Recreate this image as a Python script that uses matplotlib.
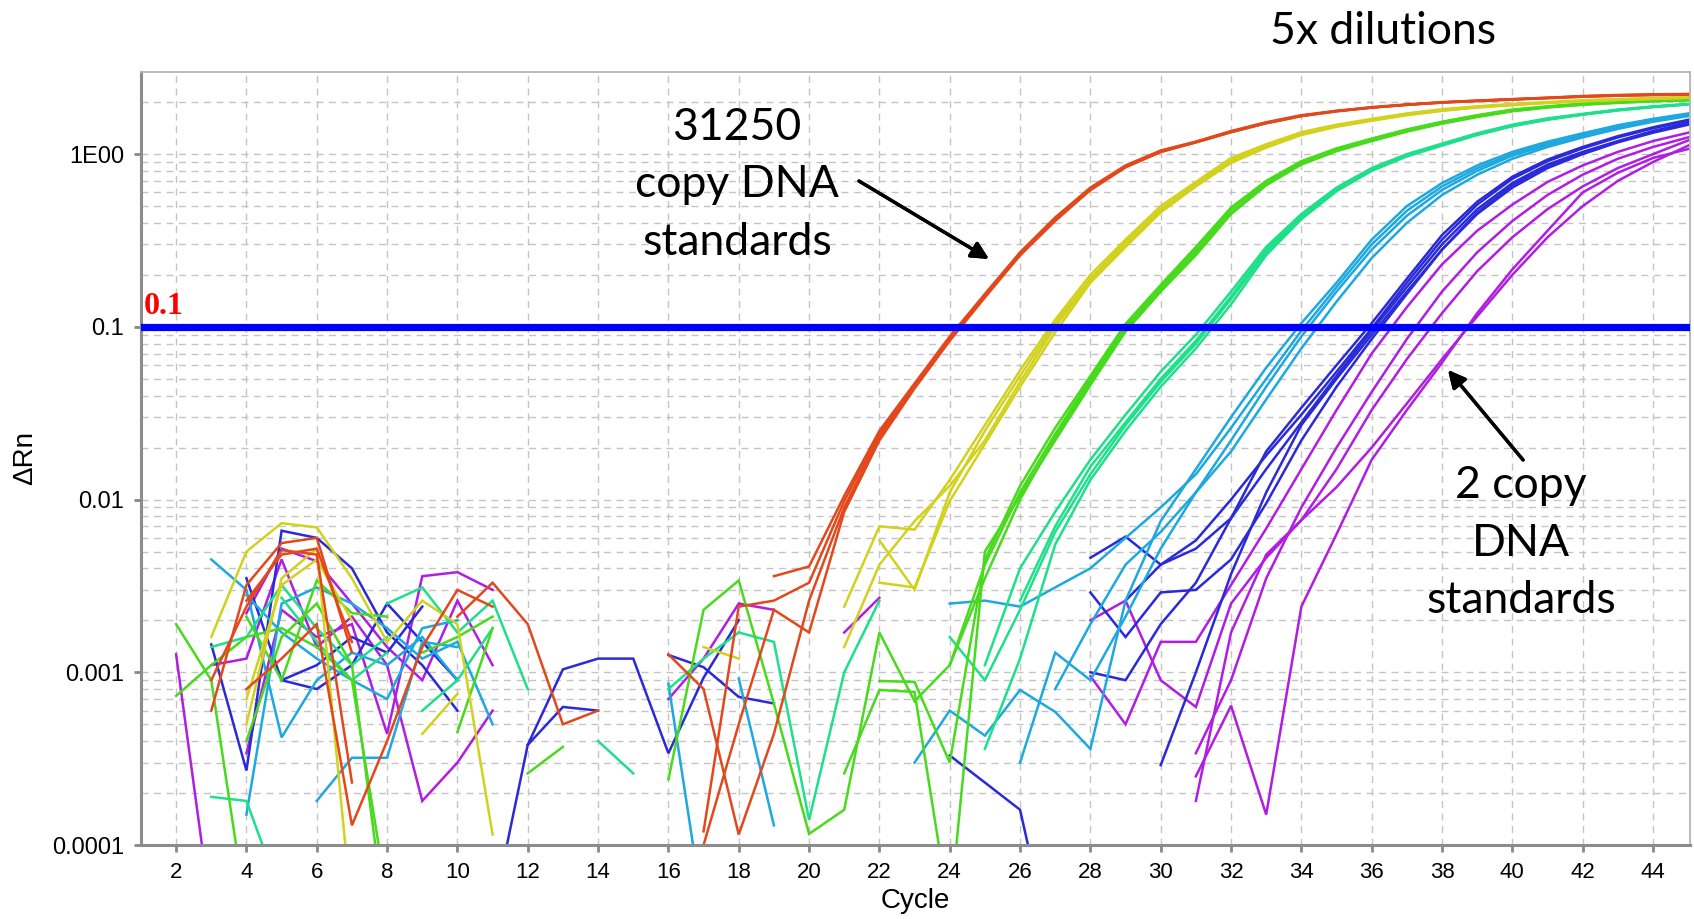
import numpy as np
import matplotlib
matplotlib.use('Agg')
import matplotlib.pyplot as plt
from matplotlib.ticker import FixedLocator, LogLocator, NullFormatter

cycles = np.arange(1, 46)
threshold = 0.1

# 5x dilution series, highest copy number first
copies = [31250, 6250, 1250, 250, 50, 10, 2]
group_colors = ['#e2481c', '#d2d21e', '#48da1c', '#1ee08a', '#1ea8e0', '#2a2ad8', '#b01ee2']

# each well: pieces of (first cycle, ΔRn per cycle)
wells_31250 = [
    [(3, [0.0006, 0.0032, 0.0056, 0.006, 0.0013]),
     (19, [0.0036, 0.0041, 0.0105, 0.025, 0.047, 0.088, 0.155, 0.27, 0.43, 0.64, 0.86, 1.05, 1.18, 1.36,
           1.53, 1.68, 1.78, 1.87, 1.94, 2.0, 2.04, 2.08, 2.12, 2.17, 2.2, 2.22, 2.23])],
    [(3, [0.0009, 0.0024, 0.0051, 0.0048, 0.00023]),
     (17, [0.00012, 0.0024, 0.0026, 0.0033, 0.0098, 0.024, 0.046, 0.086, 0.152, 0.265, 0.42, 0.63, 0.85, 1.04,
           1.18, 1.35, 1.52, 1.67, 1.78, 1.86, 1.93, 1.99, 2.04, 2.08, 2.12, 2.16, 2.19, 2.21, 2.22])],
    [(4, [0.0008, 0.0012, 0.0019, 0.00013, 0.0004, 0.0014, 0.003, 0.0024]),
     (16, [0.00127, 0.0008, 0.000115, 0.00044, 0.0026, 0.009, 0.023, 0.045, 0.085, 0.15, 0.26, 0.42, 0.62,
           0.84, 1.03, 1.17, 1.34, 1.51, 1.66, 1.77, 1.86, 1.93, 1.99, 2.03, 2.07, 2.11, 2.15, 2.18, 2.2, 2.21])],
    [(4, [0.0026, 0.0048, 0.0052, 0.0015]),
     (10, [0.0021, 0.0033, 0.0019, 0.0005, 0.0006]),
     (17, [0.0001, 0.0005, 0.0023, 0.0017, 0.0085, 0.022, 0.044, 0.083, 0.148, 0.26, 0.41, 0.62, 0.84, 1.03,
           1.17, 1.34, 1.51, 1.66, 1.77, 1.86, 1.93, 1.99, 2.03, 2.07, 2.11, 2.15, 2.18, 2.2, 2.21])],
]
wells_6250 = [
    [(3, [0.0016, 0.005, 0.0073, 0.0069, 0.0035, 0.0015, 0.0026, 0.0019, 0.000115]),
     (21, [0.0024, 0.007, 0.0067, 0.013, 0.027, 0.056, 0.11, 0.2, 0.32, 0.5, 0.69, 0.95, 1.14, 1.34, 1.48,
           1.6, 1.72, 1.82, 1.89, 1.95, 2.0, 2.05, 2.08, 2.11, 2.14])],
    [(4, [0.0005, 0.0035, 0.0052, 0.00004]),
     (22, [0.0058, 0.003, 0.011, 0.025, 0.052, 0.105, 0.19, 0.31, 0.48, 0.67, 0.92, 1.11, 1.31, 1.46, 1.58,
           1.7, 1.8, 1.88, 1.94, 1.99, 2.04, 2.07, 2.1, 2.13])],
    [(9, [0.00044, 0.00075]),
     (17, [0.0014, 0.0012]),
     (21, [0.0014, 0.0042, 0.0075, 0.012, 0.022, 0.048, 0.1, 0.185, 0.3, 0.47, 0.66, 0.9, 1.1, 1.3, 1.45,
           1.57, 1.69, 1.79, 1.87, 1.93, 1.98, 2.03, 2.06, 2.09, 2.12])],
    [(4, [0.0007, 0.0032, 0.0045, 0.002]),
     (22, [0.0033, 0.0031, 0.0098, 0.021, 0.045, 0.093, 0.18, 0.29, 0.46, 0.65, 0.89, 1.09, 1.29, 1.44, 1.56,
           1.68, 1.78, 1.86, 1.92, 1.98, 2.02, 2.06, 2.09, 2.12])],
]
wells_1250 = [
    [(2, [0.0019, 0.0009, 0.00004]),
     (9, [0.0013, 0.0016, 0.0021]),
     (24, [0.0011, 0.0042, 0.011, 0.024, 0.05, 0.1, 0.17, 0.28, 0.48, 0.69, 0.9, 1.07, 1.22, 1.38, 1.53,
           1.67, 1.8, 1.88, 1.95, 2.0, 2.04, 2.06])],
    [(2, [0.00073, 0.0011, 0.0016, 0.0018, 0.0014, 0.0009, 0.00005]),
     (16, [0.00024, 0.0023, 0.0034, 0.00066]),
     (20, [0.000116, 0.00016, 0.0017, 0.00068, 0.0011, 0.0035, 0.01, 0.023, 0.048, 0.097, 0.165, 0.27, 0.46,
           0.67, 0.88, 1.05, 1.2, 1.36, 1.51, 1.65, 1.78, 1.87, 1.94, 1.99, 2.03, 2.05])],
    [(4, [0.0004, 0.0016, 0.0025, 0.0011, 0.00003]),
     (12, [0.00026, 0.00037]),
     (21, [0.00026, 0.00079, 0.00077, 0.00004]),
     (25, [0.005, 0.0105, 0.022, 0.046, 0.094, 0.16, 0.26, 0.45, 0.66, 0.87, 1.04, 1.19, 1.35, 1.5, 1.64,
           1.77, 1.86, 1.93, 1.98, 2.02, 2.05])],
    [(4, [0.0021, 0.0009, 0.0034, 0.0022, 0.0021]),
     (10, [0.00045, 0.0018]),
     (22, [0.00089, 0.00088, 0.0003, 0.0045, 0.012, 0.026, 0.052, 0.104, 0.175, 0.29, 0.49, 0.7, 0.91, 1.08,
           1.23, 1.39, 1.54, 1.68, 1.81, 1.89, 1.96, 2.01, 2.05, 2.07])],
]
wells_250 = [
    [(3, [0.00019, 0.00018, 0.00005]),
     (8, [0.0025, 0.0031, 0.0017, 0.0026, 0.0008]),
     (26, [0.0026, 0.007, 0.0155, 0.028, 0.05, 0.083, 0.15, 0.28, 0.44, 0.63, 0.82, 0.99, 1.14, 1.31, 1.47,
           1.6, 1.7, 1.8, 1.88, 1.95])],
    [(3, [0.0014, 0.0016, 0.0032, 0.0018, 0.0011, 0.0016]),
     (18, [0.0017, 0.0015, 0.00014, 0.001, 0.0026]),
     (25, [0.0011, 0.004, 0.0085, 0.017, 0.031, 0.055, 0.09, 0.16, 0.29, 0.45, 0.64, 0.83, 1.0, 1.15, 1.32,
           1.48, 1.61, 1.71, 1.81, 1.89, 1.95])],
    [(5, [0.0027, 0.0015, 0.0009, 0.0013]),
     (14, [0.0004, 0.00026]),
     (25, [0.00036, 0.0012, 0.0055, 0.013, 0.025, 0.045, 0.075, 0.135, 0.26, 0.42, 0.61, 0.8, 0.97, 1.12,
           1.29, 1.45, 1.58, 1.69, 1.79, 1.87, 1.94])],
    [(9, [0.0006, 0.0009, 0.0018]),
     (16, [0.0008, 0.0012, 0.0017]),
     (24, [0.0016, 0.0009, 0.0023, 0.0065, 0.014, 0.027, 0.048, 0.08, 0.145, 0.27, 0.43, 0.62, 0.81, 0.98,
           1.13, 1.3, 1.46, 1.59, 1.7, 1.8, 1.88, 1.94])],
]
wells_50 = [
    [(3, [0.0045, 0.003, 0.00042, 0.0009, 0.0013, 0.0011, 0.0016, 0.0009]),
     (23, [0.0003, 0.0006, 0.00043, 0.00079, 0.00059, 0.00036, 0.0026, 0.0075, 0.015, 0.03, 0.058, 0.105,
           0.18, 0.32, 0.5, 0.68, 0.86, 1.03, 1.18, 1.32, 1.47, 1.6, 1.72])],
    [(4, [0.00015, 0.0025, 0.0031, 0.0025, 0.0018, 0.0012, 0.0015, 0.0005]),
     (16, [0.00086, 0.00004]),
     (24, [0.0025, 0.0026, 0.0024, 0.0031, 0.004, 0.006, 0.009, 0.014, 0.026, 0.05, 0.095, 0.17, 0.3, 0.47,
           0.65, 0.83, 1.0, 1.15, 1.29, 1.44, 1.57, 1.7])],
    [(6, [0.00018, 0.00032, 0.00032, 0.0015, 0.0014]),
     (18, [0.00092, 0.00013]),
     (26, [0.0003, 0.0013, 0.0009, 0.0021, 0.0052, 0.011, 0.022, 0.045, 0.088, 0.16, 0.28, 0.44, 0.62, 0.8,
           0.98, 1.13, 1.27, 1.42, 1.55, 1.68])],
    [(4, [0.0028, 0.0017, 0.0012, 0.0009, 0.0007, 0.0018, 0.002]),
     (27, [0.0008, 0.0019, 0.0042, 0.0065, 0.011, 0.019, 0.038, 0.075, 0.14, 0.25, 0.4, 0.58, 0.76, 0.94,
           1.1, 1.25, 1.4, 1.54, 1.66])],
]
wells_10 = [
    [(11, [0.00004, 0.00038, 0.00104, 0.0012, 0.0012, 0.00034, 0.00093, 0.002]),
     (28, [0.001, 0.0009, 0.0019, 0.0033, 0.0078, 0.019, 0.034, 0.06, 0.105, 0.19, 0.34, 0.53, 0.74, 0.93,
           1.1, 1.27, 1.43, 1.58])],
    [(12, [0.00038, 0.00063, 0.0006]),
     (16, [0.00126, 0.00107, 0.00072, 0.00066]),
     (24, [0.00033, 0.00023, 0.00016, 0.00002]),
     (29, [0.0026, 0.0042, 0.0058, 0.01, 0.018, 0.031, 0.055, 0.098, 0.18, 0.32, 0.51, 0.72, 0.91, 1.08,
           1.25, 1.41, 1.56])],
    [(3, [0.00145, 0.00027, 0.0066, 0.006, 0.004, 0.0017, 0.0011, 0.0006]),
     (28, [0.0046, 0.0061, 0.0042, 0.0052, 0.0078, 0.015, 0.028, 0.052, 0.095, 0.17, 0.3, 0.48, 0.68, 0.87,
           1.03, 1.19, 1.36, 1.52])],
    [(4, [0.0035, 0.0009, 0.0011, 0.0016, 0.0013, 0.0024]),
     (28, [0.0029, 0.0016, 0.0029, 0.003, 0.0045, 0.0095, 0.022, 0.045, 0.085, 0.155, 0.28, 0.46, 0.66,
           0.85, 1.02, 1.18, 1.35, 1.5])],
    [(5, [0.0009, 0.0008, 0.0011, 0.0025, 0.0015, 0.0009]),
     (30, [0.00029, 0.001, 0.0037, 0.011, 0.027, 0.05, 0.09, 0.16, 0.28, 0.45, 0.64, 0.83, 1.0, 1.17, 1.33,
           1.48])],
]
wells_2 = [
    [(2, [0.00127, 0.00004]),
     (28, [0.00095, 0.0005]),
     (30, [0.0015, 0.0015, 0.0032, 0.0068, 0.015, 0.033, 0.07, 0.13, 0.23, 0.36, 0.51, 0.69, 0.86, 1.03,
           1.19, 1.33])],
    [(4, [0.00034, 0.0023, 0.0016, 0.0019, 0.00044, 0.0036, 0.0038, 0.003]),
     (28, [0.002, 0.0026, 0.0009, 0.00063, 0.0025, 0.0046, 0.0076, 0.015, 0.033, 0.065, 0.12, 0.21, 0.33,
           0.48, 0.65, 0.83, 1.0, 1.2])],
    [(4, [0.0022, 0.0052, 0.0044, 0.0025, 0.0014, 0.0009, 0.0026, 0.0011]),
     (31, [0.00034, 0.0009, 0.0035, 0.009, 0.02, 0.042, 0.085, 0.16, 0.27, 0.41, 0.58, 0.76, 0.94, 1.1,
           1.25])],
    [(16, [0.0007, 0.0012, 0.0025, 0.0023]),
     (21, [0.0017, 0.0027]),
     (31, [0.00018, 0.0017, 0.0048, 0.0076, 0.0118, 0.02, 0.036, 0.065, 0.115, 0.2, 0.33, 0.5, 0.7, 0.9,
           1.12])],
    [(3, [0.0011, 0.0012, 0.0045, 0.0014, 0.0021, 0.0011, 0.00018, 0.0003, 0.0006]),
     (31, [0.00025, 0.00064, 0.00015, 0.0024, 0.0063, 0.017, 0.033, 0.062, 0.12, 0.215, 0.36, 0.6, 0.78,
           0.95, 1.07])],
]
wells_by_group = [wells_31250, wells_6250, wells_1250, wells_250, wells_50, wells_10, wells_2]


def well_series(pieces):
    y = np.full(cycles.size, np.nan)
    for start, vals in pieces:
        for i, v in enumerate(vals):
            y[start - 1 + i] = v
    return y


tick_font = 'Liberation Sans'
note_font = 'Lato'

fig = plt.figure(figsize=(16.94, 9.19), dpi=100)
ax = fig.add_axes([0.0832, 0.0805, 0.9144, 0.8412])

# low copy numbers underneath, high copy numbers on top
for wells, color in reversed(list(zip(wells_by_group, group_colors))):
    for pieces in wells:
        ax.plot(cycles, well_series(pieces), color=color, lw=1.8, solid_joinstyle='miter')

ax.axhline(threshold, color='#0000ff', lw=5.2, zorder=5)
ax.annotate('0.1', xy=(1.0, threshold), xytext=(2, 4), textcoords='offset points',
            color='#ff0000', fontsize=23, fontweight='bold', family='Liberation Serif',
            ha='left', va='bottom', zorder=6)

ax.set_yscale('log')
ax.set_xlim(1.0, 45.05)
ax.set_ylim(1e-4, 2.99)

ax.xaxis.set_major_locator(FixedLocator(np.arange(2, 45, 2)))
ax.set_yticks([1, 0.1, 0.01, 0.001, 0.0001])
ax.set_yticklabels(['1E00', '0.1', '0.01', '0.001', '0.0001'])
ax.yaxis.set_minor_locator(LogLocator(base=10, subs=np.arange(2, 10)))
ax.yaxis.set_minor_formatter(NullFormatter())

ax.grid(True, which='major', ls=(0, (5, 4)), color='#c4c4c4', lw=1.0)
ax.grid(True, which='minor', axis='y', ls=(0, (5, 4)), color='#c4c4c4', lw=1.0)
ax.set_axisbelow(True)

ax.tick_params(which='major', direction='out', length=5, width=2, color='#888888', pad=7)
ax.tick_params(which='minor', length=0)
for lab in ax.get_xticklabels():
    lab.set_fontsize(16)
    lab.set_family(tick_font)
for lab in ax.get_yticklabels():
    lab.set_fontsize(17)
    lab.set_family(tick_font)

for side in ['left', 'bottom']:
    ax.spines[side].set_color('#8c8c8c')
    ax.spines[side].set_linewidth(2.2)
for side in ['top', 'right']:
    ax.spines[side].set_color('#b4b4b4')
    ax.spines[side].set_linewidth(1.3)

ax.set_xlabel('Cycle', fontsize=20, family=tick_font, labelpad=4)
ax.set_ylabel('ΔRn', fontsize=20, family=tick_font, labelpad=10)

fig.text(0.8164, 0.966, '5x dilutions', fontsize=32, family=note_font, ha='center', va='center')
fig.text(0.435, 0.7987, '31250\ncopy DNA\nstandards', fontsize=32, family=note_font,
         ha='center', va='center', linespacing=1.5)
fig.text(0.898, 0.409, '2 copy\nDNA\nstandards', fontsize=32, family=note_font,
         ha='center', va='center', linespacing=1.5)

arrow = dict(arrowstyle='-|>', lw=2.4, color='black', mutation_scale=26, shrinkA=0, shrinkB=0)
fig.add_artist(plt.annotate('', xy=(0.5838, 0.7182), xytext=(0.5071, 0.8030),
                            xycoords='figure fraction', arrowprops=arrow))
fig.add_artist(plt.annotate('', xy=(0.8548, 0.5974), xytext=(0.8991, 0.4995),
                            xycoords='figure fraction', arrowprops=arrow))

fig.savefig('out.png', dpi=100)
